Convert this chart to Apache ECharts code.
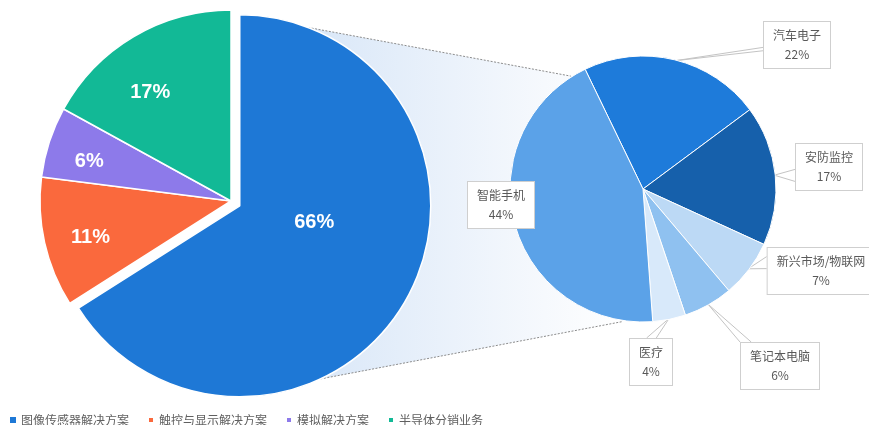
<!DOCTYPE html>
<html>
<head>
<meta charset="utf-8">
<script src="https://cdn.jsdelivr.net/npm/echarts@6/dist/echarts.min.js"></script>
<style>
  html, body { margin: 0; padding: 0; background: #ffffff; }
  #chart { width: 869px; height: 425px; }
</style>
</head>
<body>
<div id="chart"></div>
<script>
// Revenue split by business line
const businessNames = ['图像传感器解决方案', '触控与显示解决方案', '模拟解决方案', '半导体分销业务'];
const businessShares = [66, 11, 6, 17];

// Breakdown of the image-sensor business by application
const applicationNames = ['汽车电子', '安防监控', '新兴市场/物联网', '笔记本电脑', '医疗', '智能手机'];
const applicationShares = [22, 17, 7, 6, 4, 44];

const businessColors = ['#1e78d6', '#fa693d', '#8d7aea', '#12b996'];
const applicationColors = ['#1e7bda', '#1660ab', '#bcd9f5', '#8fc1f0', '#d8e9fa', '#5ba2e8'];

const fontCJK = '"Noto Sans CJK SC", "Noto Sans", sans-serif';

// Layout of the two pies
const mainCenter = [231, 201];
const mainRadius = 191;
const explode = 10;
const detailCenter = [643, 189];
const detailRadius = 133;
const detailStartAngle = 115.8;

// Inner label placement for the main pie: [radius fraction, angle shift in degrees]
const mainLabelPlace = [[0.40, -16], [0.76, -2], [0.77, -2.5], [0.71, -6]];
// Callout box centres for the detail pie
const detailLabelAt = [[797, 45], [829, 167], [821, 271], [780, 366], [651, 362], [501, 205]];
// Callout pointer: box side it leaves from, and the two base points along that side (fractions)
const detailPointer = [['left', 0.55, 0.62], ['left', 0.55, 0.8], ['left', 0.2, 0.45], ['top', 0.0, 0.14], ['top', 0.4, 0.62], null];

const toRad = d => d * Math.PI / 180;
const total = arr => arr.reduce((a, b) => a + b, 0);

// mid angle of slice i, clockwise from 12 o'clock
function midAngle(values, i, startCw) {
  const sum = total(values);
  let acc = 0;
  for (let k = 0; k < i; k++) acc += values[k];
  return startCw + (acc + values[i] / 2) / sum * 360;
}
function polar(c, r, angCw) {
  return [c[0] + r * Math.sin(toRad(angCw)), c[1] - r * Math.cos(toRad(angCw))];
}

const explodedCenter = polar(mainCenter, explode, midAngle(businessShares, 0, 0));

// Connector between the exploded slice and the detail pie
const wedgeTopL = polar(explodedCenter, mainRadius, 21);
const wedgeBotL = polar(explodedCenter, mainRadius, 155);
const wedgeTopR = polar(detailCenter, detailRadius + 1, 327.4);
const wedgeBotR = polar(detailCenter, detailRadius + 1, 188.6);

function mainLabelLayout(params) {
  const i = params.dataIndex;
  const place = mainLabelPlace[i];
  const c = i === 0 ? explodedCenter : mainCenter;
  const pt = polar(c, mainRadius * place[0], midAngle(businessShares, i, 0) + place[1]);
  return { x: pt[0], y: pt[1], align: 'center', verticalAlign: 'middle' };
}

// Two overlaid pies share the same angles: one holds the pulled-out slice, the other the rest
function mainData(showExploded) {
  return businessNames.map((n, i) => {
    const visible = showExploded ? i === 0 : i !== 0;
    return {
      name: n,
      value: businessShares[i],
      itemStyle: visible
        ? { color: businessColors[i], borderColor: '#ffffff', borderWidth: 1.5 }
        : { color: 'rgba(0,0,0,0)', borderWidth: 0 },
      label: { show: visible }
    };
  });
}

const mainLabel = {
  position: 'inside',
  formatter: p => p.value + '%',
  color: '#ffffff',
  fontSize: 20,
  fontWeight: 'bold',
  fontFamily: '"Liberation Sans", Arial, sans-serif'
};

const chart = echarts.init(document.getElementById('chart'), null, { renderer: 'canvas' });

chart.setOption({
  animation: false,
  backgroundColor: '#ffffff',
  legend: {
    data: businessNames.map((n, i) => ({ name: n, itemStyle: { color: businessColors[i] } })),
    left: 5,
    top: 409,
    icon: 'rect',
    itemWidth: 6,
    itemHeight: 6,
    itemGap: 18,
    selectedMode: false,
    textStyle: { fontSize: 12, color: '#606060', fontFamily: fontCJK }
  },
  graphic: [
    {
      type: 'polygon',
      z: -10,
      silent: true,
      shape: { points: [wedgeTopL, wedgeTopR, wedgeBotR, wedgeBotL] },
      style: {
        fill: {
          type: 'linear', x: 0, y: 0, x2: 1, y2: 0,
          colorStops: [
            { offset: 0, color: '#d9e7f8' },
            { offset: 0.75, color: '#f6f9fd' },
            { offset: 1, color: '#ffffff' }
          ]
        }
      }
    },
    {
      type: 'polyline',
      z: -5,
      silent: true,
      shape: { points: [wedgeTopL, wedgeTopR] },
      style: { stroke: '#8c8c8c', lineWidth: 1, lineDash: [2, 1.5], fill: null }
    },
    {
      type: 'polyline',
      z: -5,
      silent: true,
      shape: { points: [wedgeBotL, wedgeBotR] },
      style: { stroke: '#8c8c8c', lineWidth: 1, lineDash: [2, 1.5], fill: null }
    }
  ],
  series: [
    {
      type: 'pie',
      name: '业务构成',
      center: mainCenter,
      radius: [0, mainRadius],
      startAngle: 90,
      clockwise: true,
      silent: true,
      avoidLabelOverlap: false,
      label: mainLabel,
      labelLine: { show: false },
      emphasis: { disabled: true },
      labelLayout: mainLabelLayout,
      data: mainData(false)
    },
    {
      type: 'pie',
      name: '业务构成',
      center: explodedCenter,
      radius: [0, mainRadius],
      startAngle: 90,
      clockwise: true,
      silent: true,
      avoidLabelOverlap: false,
      label: mainLabel,
      labelLine: { show: false },
      emphasis: { disabled: true },
      labelLayout: mainLabelLayout,
      data: mainData(true)
    },
    {
      type: 'pie',
      name: '应用领域',
      center: detailCenter,
      radius: [0, detailRadius],
      startAngle: detailStartAngle,
      clockwise: true,
      silent: true,
      avoidLabelOverlap: false,
      itemStyle: { borderColor: '#ffffff', borderWidth: 1 },
      label: {
        show: true,
        position: 'outside',
        formatter: p => p.name + '\n' + p.value + '%',
        color: '#595959',
        fontSize: 12,
        lineHeight: 19,
        fontFamily: fontCJK,
        backgroundColor: '#ffffff',
        borderColor: '#cfcfcf',
        borderWidth: 1,
        padding: [5, 9, 3, 9],
        align: 'center'
      },
      labelLine: {
        show: true,
        length: 10,
        length2: 10,
        lineStyle: { color: '#c4c4c4', width: 1 }
      },
      emphasis: { disabled: true },
      labelLayout: function (params) {
        const i = params.dataIndex;
        const at = detailLabelAt[i];
        const w = params.labelRect.width;
        const h = params.labelRect.height;
        const out = { x: at[0], y: at[1], align: 'center', verticalAlign: 'middle' };
        const ptr = detailPointer[i];
        const startCw = 90 - detailStartAngle;
        const tip = polar(detailCenter, detailRadius - 1, midAngle(applicationShares, i, startCw));
        const left = at[0] - w / 2, top = at[1] - h / 2;
        if (ptr) {
          let a, b;
          if (ptr[0] === 'left') {
            a = [left, top + h * ptr[1]];
            b = [left, top + h * ptr[2]];
          } else {
            a = [left + w * ptr[1], top];
            b = [left + w * ptr[2], top];
          }
          out.labelLinePoints = [a, tip, b];
        } else {
          out.labelLinePoints = [tip, tip, tip];
        }
        return out;
      },
      data: applicationNames.map((n, i) => ({
        name: n,
        value: applicationShares[i],
        itemStyle: { color: applicationColors[i] }
      }))
    }
  ]
});
</script>
</body>
</html>
